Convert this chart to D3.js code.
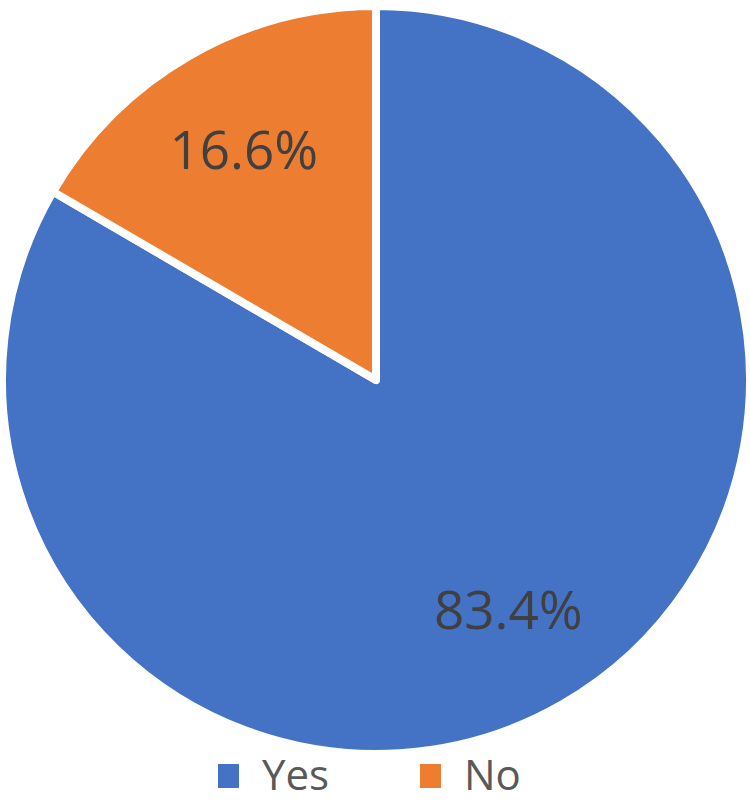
<!DOCTYPE html>
<html>
<head>
<meta charset="utf-8">
<script src="https://cdn.jsdelivr.net/npm/d3@7"></script>
<style>
  html, body { margin: 0; padding: 0; background: #fff; }
  #chart { width: 750px; height: 802px; }
  text { font-family: "Open Sans", "Liberation Sans", sans-serif; }
</style>
</head>
<body>
<div id="chart"></div>
<script>
// ── Data ───────────────────────────────────────────────────────────────────
const categories = ["Yes", "No"];
const shares = [83.4, 16.6];
const labels = ["83.4%", "16.6%"];
const colors = ["#4472C4", "#ED7D31"];

function renderPie(selector) {
  const width = 750;
  const height = 802;

  const svg = d3
    .select(selector)
    .append("svg")
    .attr("width", width)
    .attr("height", height);

  const cx = 376;
  const cy = 380;
  const radius = 374;

  const data = categories.map((c, i) => ({ cat: c, value: shares[i], label: labels[i] }));

  const color = d3.scaleOrdinal().domain(categories).range(colors);

  const pie = d3.pie().sort(null).value((d) => d.value);
  const arcs = pie(data);

  const arc = d3.arc().innerRadius(0).outerRadius(radius);
  const labelArc = d3.arc().innerRadius(radius * 0.71).outerRadius(radius * 0.71);

  const g = svg.append("g").attr("transform", `translate(${cx},${cy})`);

  // ── Slices ───────────────────────────────────────────────────────────────
  g.selectAll("path.slice")
    .data(arcs)
    .join("path")
    .attr("class", "slice")
    .attr("d", arc)
    .attr("fill", (d) => color(d.data.cat))
    .attr("stroke", "#fff")
    .attr("stroke-width", 8)
    .attr("stroke-linejoin", "round");

  // ── Labels ───────────────────────────────────────────────────────────────
  g.selectAll("text.pct")
    .data(arcs)
    .join("text")
    .attr("class", "pct")
    .attr("transform", (d) => `translate(${labelArc.centroid(d)})`)
    .attr("text-anchor", "middle")
    .attr("dy", "0.36em")
    .attr("fill", "#404040")
    .style("font-size", "53px")
    .text((d) => d.data.label);

  // ── Legend ───────────────────────────────────────────────────────────────
  const legend = svg.append("g").attr("class", "legend");
  const slots = d3.scalePoint().domain(categories).range([218, 420]);

  const item = legend
    .selectAll("g")
    .data(categories)
    .join("g")
    .attr("transform", (d) => `translate(${slots(d)},776)`);

  item
    .append("rect")
    .attr("x", 0)
    .attr("y", -12)
    .attr("width", 21)
    .attr("height", 24)
    .attr("fill", (d) => color(d));

  item
    .append("text")
    .attr("x", 44)
    .attr("dy", "0.34em")
    .attr("fill", "#595959")
    .style("font-size", "42px")
    .text((d) => d);
}

renderPie("#chart");
</script>
</body>
</html>
